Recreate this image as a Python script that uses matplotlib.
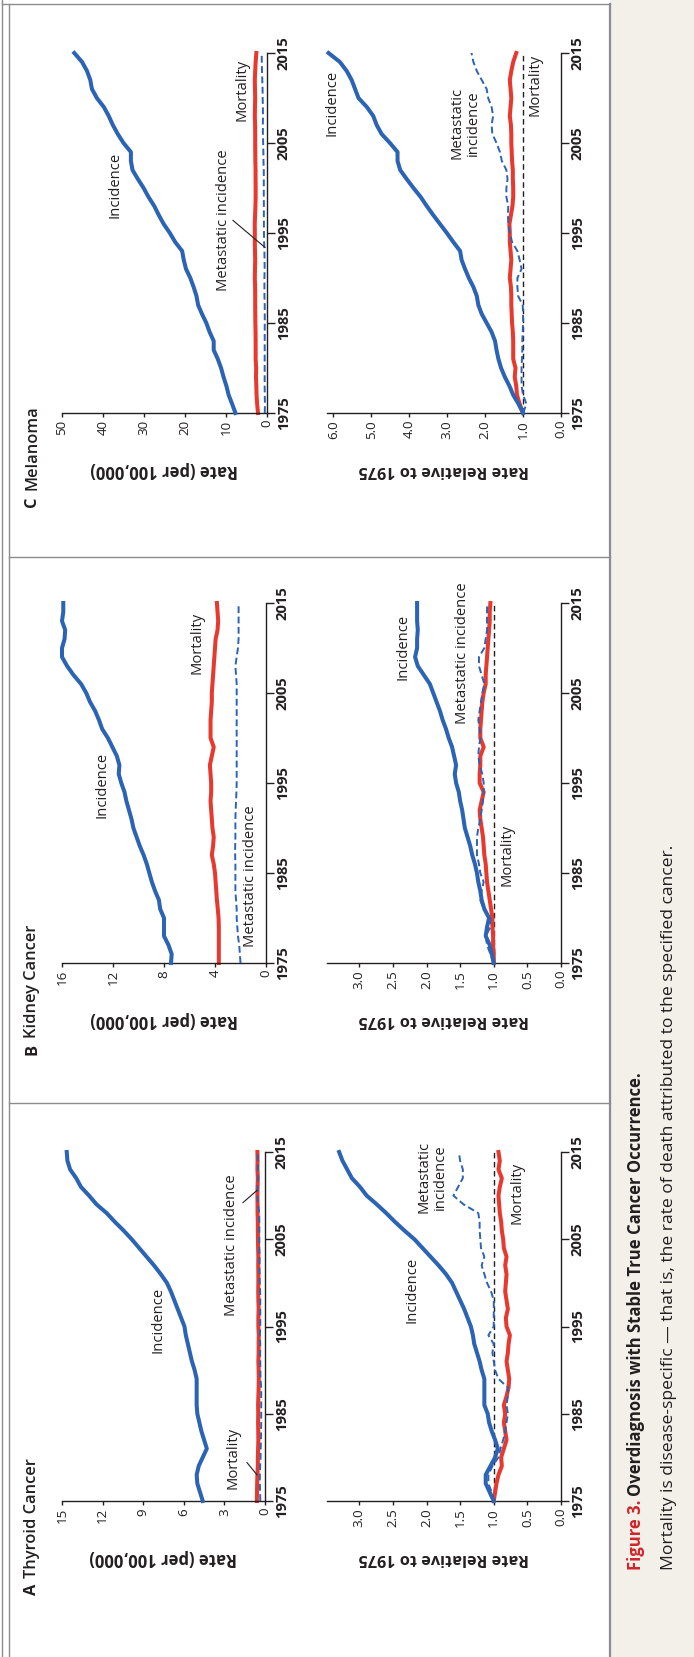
import numpy as np
import matplotlib
matplotlib.use('Agg')
import matplotlib.pyplot as plt
from matplotlib.transforms import offset_copy
from matplotlib.lines import Line2D
from matplotlib.patches import Rectangle

plt.rcParams['font.family'] = ['Open Sans', 'DejaVu Sans']

W, H = 694, 1657
BLUE = '#2b63b5'
RED = '#e8392e'
INK = '#231f20'
GRAY = '#8c8c8c'

years = np.arange(1975, 2016)
year_ticks = [1975, 1985, 1995, 2005, 2015]

# --- A: thyroid cancer ---
thy_inc = [4.6, 4.8, 5.0, 5.05, 4.9, 4.6, 4.3, 4.5, 4.7, 4.85,
           5.0, 5.05, 5.05, 5.05, 5.05, 5.2, 5.4, 5.55, 5.7, 5.85,
           5.95, 6.2, 6.45, 6.7, 6.95, 7.25, 7.7, 8.2, 8.75, 9.3,
           9.85, 10.45, 11.1, 11.7, 12.45, 13.0, 13.6, 13.95, 14.4, 14.6, 14.65]
thy_mort = [0.6, 0.59, 0.58, 0.56, 0.53, 0.53, 0.51, 0.49, 0.5, 0.51,
            0.5, 0.51, 0.49, 0.47, 0.46, 0.47, 0.49, 0.47, 0.47, 0.46,
            0.49, 0.49, 0.47, 0.49, 0.5, 0.49, 0.49, 0.5, 0.49, 0.51,
            0.52, 0.53, 0.53, 0.55, 0.55, 0.56, 0.55, 0.53, 0.56, 0.55, 0.56]
thy_met = [0.35, 0.36, 0.38, 0.38, 0.36, 0.33, 0.32, 0.3, 0.29, 0.28,
           0.28, 0.28, 0.28, 0.28, 0.33, 0.34, 0.35, 0.36, 0.35, 0.38,
           0.35, 0.35, 0.35, 0.35, 0.36, 0.39, 0.4, 0.41, 0.4, 0.42,
           0.42, 0.42, 0.42, 0.43, 0.51, 0.56, 0.54, 0.51, 0.51, 0.53, 0.53]
thy_inc_rel = [1.0, 1.06, 1.12, 1.12, 1.05, 0.98, 0.94, 0.98, 1.03, 1.07,
               1.09, 1.14, 1.14, 1.14, 1.14, 1.18, 1.21, 1.25, 1.29, 1.31,
               1.34, 1.39, 1.44, 1.5, 1.56, 1.62, 1.71, 1.82, 1.94, 2.06,
               2.18, 2.33, 2.47, 2.6, 2.74, 2.89, 2.99, 3.11, 3.18, 3.25, 3.3]
thy_mort_rel = [1.0, 0.98, 0.96, 0.93, 0.88, 0.89, 0.85, 0.81, 0.83, 0.85,
                0.83, 0.85, 0.81, 0.78, 0.77, 0.79, 0.81, 0.79, 0.78, 0.76,
                0.81, 0.82, 0.79, 0.81, 0.83, 0.82, 0.81, 0.83, 0.81, 0.85,
                0.86, 0.88, 0.89, 0.91, 0.92, 0.93, 0.91, 0.88, 0.93, 0.91, 0.93]
thy_met_rel = [1.0, 1.03, 1.08, 1.08, 1.02, 0.93, 0.9, 0.86, 0.83, 0.81,
               0.79, 0.81, 0.79, 0.79, 0.93, 0.98, 1.0, 1.02, 1.0, 1.08,
               1.0, 1.0, 1.0, 1.0, 1.04, 1.1, 1.14, 1.18, 1.14, 1.19,
               1.2, 1.21, 1.21, 1.23, 1.45, 1.6, 1.53, 1.46, 1.46, 1.5, 1.52]

# --- B: kidney cancer ---
kid_inc = [7.45, 7.4, 7.65, 8.0, 8.0, 8.0, 8.3, 8.4, 8.7, 8.95,
           9.15, 9.35, 9.6, 9.9, 10.15, 10.4, 10.55, 10.75, 10.95, 11.1,
           11.35, 11.55, 11.5, 11.7, 12.05, 12.4, 12.85, 13.1, 13.4, 13.8,
           14.1, 14.5, 15.1, 15.6, 16.0, 16.0, 15.8, 15.75, 16.0, 15.9, 15.9]
kid_mort = [3.7, 3.7, 3.7, 3.7, 3.7, 3.72, 3.78, 3.85, 3.9, 3.95,
            4.0, 4.1, 4.25, 4.15, 4.1, 4.2, 4.25, 4.3, 4.35, 4.3,
            4.3, 4.35, 4.4, 4.25, 4.1, 4.35, 4.35, 4.35, 4.3, 4.25,
            4.25, 4.2, 4.15, 4.1, 4.05, 4.0, 3.95, 3.8, 3.75, 3.8, 3.85]
kid_met = [2.0, 2.05, 2.1, 2.2, 2.25, 2.3, 2.3, 2.35, 2.4, 2.4,
           2.4, 2.4, 2.42, 2.42, 2.4, 2.4, 2.4, 2.38, 2.35, 2.32,
           2.3, 2.3, 2.3, 2.3, 2.3, 2.3, 2.3, 2.3, 2.3, 2.3,
           2.3, 2.3, 2.35, 2.4, 2.3, 2.2, 2.15, 2.15, 2.15, 2.15, 2.15]
kid_inc_rel = [1.0, 1.03, 1.06, 1.12, 1.1, 1.07, 1.14, 1.18, 1.2, 1.23,
               1.25, 1.28, 1.32, 1.35, 1.39, 1.43, 1.45, 1.47, 1.5, 1.52,
               1.56, 1.58, 1.56, 1.59, 1.62, 1.67, 1.71, 1.76, 1.8, 1.85,
               1.9, 1.95, 2.04, 2.13, 2.17, 2.14, 2.14, 2.13, 2.14, 2.14, 2.14]
kid_mort_rel = [1.0, 1.0, 1.01, 1.01, 1.02, 1.02, 1.04, 1.06, 1.08, 1.1,
                1.11, 1.12, 1.14, 1.15, 1.16, 1.18, 1.2, 1.21, 1.18, 1.15,
                1.21, 1.21, 1.2, 1.2, 1.15, 1.2, 1.2, 1.19, 1.18, 1.17,
                1.15, 1.12, 1.12, 1.11, 1.1, 1.09, 1.08, 1.07, 1.06, 1.06, 1.05]
kid_met_rel = [1.0, 1.05, 1.1, 1.12, 1.05, 1.05, 1.15, 1.2, 1.18, 1.15,
               1.2, 1.22, 1.25, 1.25, 1.25, 1.23, 1.2, 1.18, 1.16, 1.15,
               1.15, 1.17, 1.21, 1.23, 1.22, 1.2, 1.21, 1.23, 1.21, 1.19,
               1.17, 1.14, 1.18, 1.22, 1.22, 1.14, 1.12, 1.1, 1.1, 1.1, 1.1]

# --- C: melanoma ---
mel_inc = [7.7, 8.5, 9.35, 9.9, 10.6, 11.2, 12.0, 13.0, 13.0, 14.0,
           14.8, 15.85, 16.8, 17.2, 17.9, 18.7, 19.75, 20.3, 20.7, 22.4,
           23.7, 25.2, 26.4, 27.5, 28.9, 30.1, 31.5, 32.8, 33.2, 33.2,
           35.0, 36.4, 37.6, 38.6, 39.8, 41.5, 42.7, 43.1, 43.9, 45.1, 47.0]
mel_mort = [2.2, 2.4, 2.55, 2.6, 2.68, 2.64, 2.77, 2.77, 2.77, 2.79,
            2.84, 2.86, 2.88, 2.88, 2.9, 2.97, 2.93, 2.88, 2.93, 2.97,
            2.97, 2.99, 2.9, 2.82, 2.77, 2.77, 2.79, 2.79, 2.84, 2.86,
            2.88, 2.88, 2.9, 2.97, 2.93, 2.88, 2.93, 2.97, 2.88, 2.77, 2.6]
mel_met = [0.55, 0.5, 0.55, 0.57, 0.57, 0.57, 0.57, 0.56, 0.56, 0.56,
           0.55, 0.55, 0.56, 0.62, 0.63, 0.63, 0.57, 0.6, 0.63, 0.71,
           0.74, 0.76, 0.77, 0.76, 0.79, 0.79, 0.78, 0.79, 0.86, 0.89,
           0.94, 1.0, 1.01, 0.98, 1.01, 1.06, 1.08, 1.15, 1.22, 1.27, 1.3]
mel_inc_rel = [1.0, 1.12, 1.26, 1.36, 1.48, 1.58, 1.65, 1.7, 1.74, 1.83,
               1.96, 2.09, 2.18, 2.22, 2.31, 2.43, 2.53, 2.62, 2.66, 2.84,
               3.01, 3.19, 3.37, 3.54, 3.7, 3.89, 4.07, 4.24, 4.31, 4.31,
               4.51, 4.73, 4.86, 4.95, 5.12, 5.34, 5.43, 5.52, 5.65, 5.83, 6.13]
mel_mort_rel = [1.0, 1.09, 1.16, 1.18, 1.22, 1.2, 1.26, 1.26, 1.26, 1.27,
                1.29, 1.3, 1.31, 1.31, 1.32, 1.35, 1.33, 1.31, 1.33, 1.35,
                1.35, 1.36, 1.32, 1.28, 1.26, 1.26, 1.27, 1.27, 1.29, 1.3,
                1.31, 1.31, 1.32, 1.35, 1.33, 1.31, 1.33, 1.35, 1.31, 1.26, 1.18]
mel_met_rel = [1.0, 0.91, 1.0, 1.04, 1.04, 1.04, 1.03, 1.02, 1.02, 1.01,
               1.0, 1.0, 1.01, 1.13, 1.15, 1.15, 1.04, 1.09, 1.15, 1.29,
               1.35, 1.39, 1.4, 1.39, 1.44, 1.44, 1.41, 1.44, 1.56, 1.61,
               1.7, 1.81, 1.83, 1.79, 1.83, 1.92, 1.96, 2.09, 2.22, 2.31, 2.36]

rate_ticks_A = [0, 3, 6, 9, 12, 15]
rate_ticks_B = [0, 4, 8, 12, 16]
rate_ticks_C = [0, 10, 20, 30, 40, 50]
rel_ticks_AB = [0.0, 0.5, 1.0, 1.5, 2.0, 2.5, 3.0]
rel_ticks_C = [0.0, 1.0, 2.0, 3.0, 4.0, 5.0, 6.0]

fig = plt.figure(figsize=(W / 100, H / 100), dpi=100)
fig.patch.set_facecolor('white')


def fx(px):
    return px / W


def fy(py):
    return 1 - py / H


def make_ax(x0, x1, ytop, ybot):
    return fig.add_axes([fx(x0), fy(ybot), (x1 - x0) / W, (ybot - ytop) / H])


def style(ax, xmax, ticks, fmt, label, label_size):
    ax.set_xlim(xmax, 0)
    ax.set_ylim(1975, 2015)
    ax.patch.set_visible(False)
    ax.spines['top'].set_visible(False)
    ax.spines['left'].set_visible(False)
    for s in ('bottom', 'right'):
        ax.spines[s].set_linewidth(1.0)
        ax.spines[s].set_color(INK)
    ax.yaxis.tick_right()
    ax.set_xticks(ticks, [fmt.format(t) for t in ticks], rotation=90,
                  fontsize=9.6, color=INK)
    ax.set_yticks(year_ticks, [str(y) for y in year_ticks], rotation=90,
                  fontsize=10.6, fontweight='bold', va='center', color=INK)
    ax.tick_params(axis='x', length=3, width=1, pad=2, colors=INK)
    ax.tick_params(axis='y', length=6, width=1, pad=1, colors=INK)
    tr = offset_copy(ax.transAxes, fig=fig, x=0, y=-57, units='dots')
    ax.text(0.5, 0, label, transform=tr, rotation=180, ha='center',
            va='center', fontsize=label_size, fontweight='bold', color=INK)


def draw(ax, inc, mort, met, ref=False):
    if ref:
        ax.axvline(1.0, color=INK, lw=1.0, ls=(0, (4, 2.5)), zorder=1)
    ax.plot(mort, years, color=RED, lw=2.9, clip_on=False, zorder=2)
    ax.plot(met, years, color=BLUE, lw=1.4, ls=(0, (3.5, 1.8)),
            clip_on=False, zorder=3)
    ax.plot(inc, years, color=BLUE, lw=2.9, clip_on=False, zorder=4)


def note(ax, x, y, s):
    ax.text(x, y, s, rotation=90, ha='center', va='center', fontsize=10.6,
            color=INK, linespacing=1.15)


def leader(ax, xs, ys):
    ax.plot(xs, ys, color=INK, lw=0.8, zorder=5)


# panel A
axA1 = make_ax(62, 265, 1152, 1501)
style(axA1, 15, rate_ticks_A, '{:d}', 'Rate (per 100,000)', 12)
draw(axA1, thy_inc, thy_mort, thy_met)
note(axA1, 7.9, 1995.7, 'Incidence')
note(axA1, 2.4, 1979.9, 'Mortality')
leader(axA1, [1.33, 0.59], [1979.4, 1978.0])
note(axA1, 2.45, 2004.3, 'Metastatic incidence')
leader(axA1, [1.63, 0.59], [2009.2, 2010.6])

axA2 = make_ax(327, 561, 1152, 1501)
style(axA2, 3.48, rel_ticks_AB, '{:.1f}', 'Rate Relative to 1975', 11.7)
draw(axA2, thy_inc_rel, thy_mort_rel, thy_met_rel, ref=True)
note(axA2, 2.21, 1999.2, 'Incidence')
note(axA2, 1.92, 2012.1, 'Metastatic\nincidence')
note(axA2, 0.65, 2010.3, 'Mortality')

# panel B
axB1 = make_ax(62, 266, 603, 963)
style(axB1, 16, rate_ticks_B, '{:d}', 'Rate (per 100,000)', 12)
draw(axB1, kid_inc, kid_mort, kid_met)
note(axB1, 12.9, 1994.8, 'Incidence')
note(axB1, 5.4, 2010.6, 'Mortality')
note(axB1, 1.25, 1984.6, 'Metastatic incidence')

axB2 = make_ax(327, 561, 603, 963)
style(axB2, 3.48, rel_ticks_AB, '{:.1f}', 'Rate Relative to 1975', 11.7)
draw(axB2, kid_inc_rel, kid_mort_rel, kid_met_rel, ref=True)
note(axB2, 2.35, 2010.1, 'Incidence')
note(axB2, 1.46, 2009.4, 'Metastatic incidence')
note(axB2, 0.8, 1987.0, 'Mortality')

# panel C
axC1 = make_ax(62, 267, 53, 413)
style(axC1, 50, rate_ticks_C, '{:d}', 'Rate (per 100,000)', 12)
draw(axC1, mel_inc, mel_mort, mel_met)
note(axC1, 37.1, 2000.3, 'Incidence')
note(axC1, 10.7, 1996.4, 'Metastatic incidence')
leader(axC1, [8.3, 0.5], [1996.4, 1993.4])
note(axC1, 6.1, 2010.9, 'Mortality')

axC2 = make_ax(327, 561, 53, 413)
style(axC2, 6.17, rel_ticks_C, '{:.1f}', 'Rate Relative to 1975', 11.7)
draw(axC2, mel_inc_rel, mel_mort_rel, mel_met_rel, ref=True)
note(axC2, 6.04, 2009.4, 'Incidence')
note(axC2, 2.53, 2007.2, 'Metastatic\nincidence')
note(axC2, 0.69, 2011.4, 'Mortality')

# frame and caption area
fig.patches.append(Rectangle((fx(610), 0), 1 - fx(610), 1, transform=fig.transFigure,
                             facecolor='#f3f0e9', edgecolor='none', zorder=0))
frame = [([2, 2], [0, H], 1.0), ([9, 9], [4, H], 1.0), ([2, 610], [4, 4], 1.0),
         ([610, 610], [4, H], 1.6), ([9, 610], [1103, 1103], 1.0),
         ([9, 610], [557, 557], 1.0)]
for xs, ys, lw in frame:
    fig.add_artist(Line2D([fx(v) for v in xs], [fy(v) for v in ys],
                          transform=fig.transFigure, color=GRAY, lw=lw))

renderer = fig.canvas.get_renderer()


def run_text(x, y, parts, size):
    # parts drawn one after another along the rotated baseline
    ypos = fy(y)
    for s, kw, gap in parts:
        t = fig.text(fx(x), ypos, s, rotation=90, rotation_mode='anchor',
                     ha='left', va='baseline', fontsize=size, **kw)
        bb = t.get_window_extent(renderer=renderer)
        ypos = (bb.y1 + gap) / H


titles = [(36, 1595, 'A', 'Thyroid Cancer'), (36, 1055, 'B', 'Kidney Cancer'),
          (36, 507, 'C', 'Melanoma')]
for x, y, letter, name in titles:
    run_text(x, y, [(letter, dict(fontweight='bold', color=INK), 6),
                    (name, dict(fontweight='semibold', color=INK), 0)], 11.8)

run_text(641, 1570, [('Figure 3.', dict(fontweight='bold', color='#d2232a'), 4),
                     ('Overdiagnosis with Stable True Cancer Occurrence.',
                      dict(fontweight='bold', color=INK), 0)], 12)
run_text(673, 1570, [('Mortality is disease-specific \u2014 that is, the rate of death '
                      'attributed to the specified cancer.', dict(color=INK), 0)], 12.6)

fig.savefig('out.png', dpi=100)
